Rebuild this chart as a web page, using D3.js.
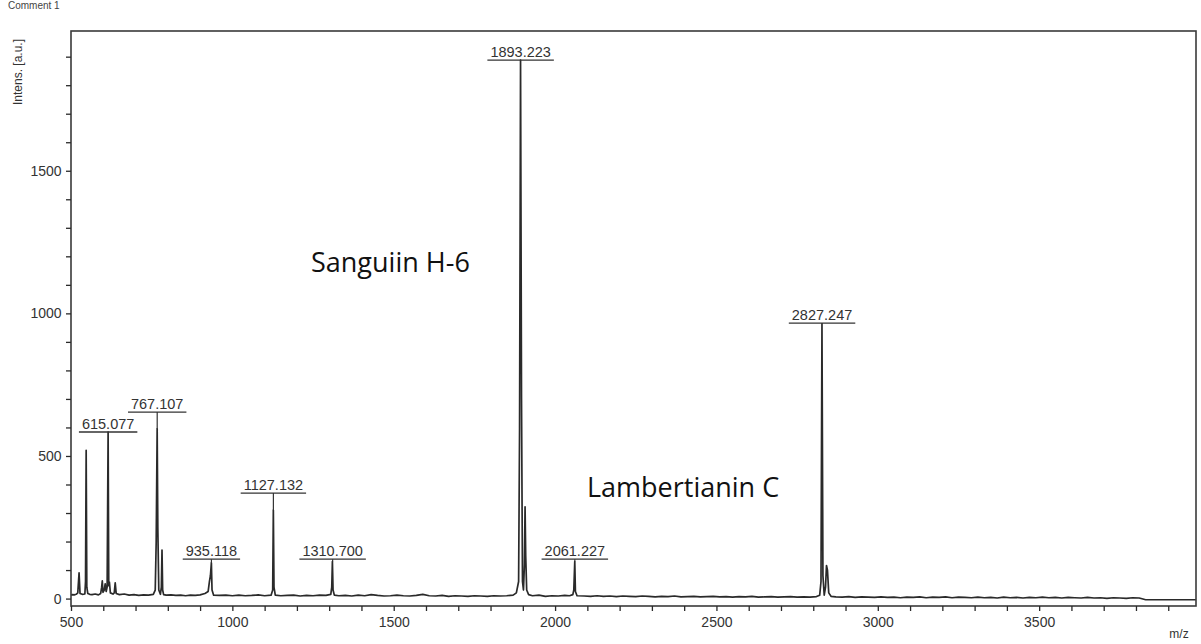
<!DOCTYPE html>
<html><head><meta charset="utf-8">
<script src="https://cdn.jsdelivr.net/npm/d3@7"></script>
<style>body{margin:0;background:#fff}svg{display:block}</style>
</head><body>
<svg id="c" width="1201" height="644"></svg>
<script>
// ---- data ----
const xTicks = [500,1000,1500,2000,2500,3000,3500];
const yTicks = [0,500,1000,1500];
const annotations = ["Sanguiin H-6", "Lambertianin C"];
const peakMz =    [615.077, 767.107, 935.118, 1127.132, 1310.700, 1893.223, 2061.227, 2827.247];
const peakLabels = ["615.077","767.107","935.118","1127.132","1310.700","1893.223","2061.227","2827.247"];
const labelLevel = [584, 654, 138, 370, 138, 1888, 138, 966];
const peakTop =    [584, 595, 125, 310, 130, 1888, 130, 963];
const spectrum = [
[501,12],[505,14],[510,13],[516,15],[521,20],[525,90],[528,18],[535,15],[543,16],[545,60],[547,520],[549,40],[552,18],[558,15],[565,14],[575,16],[585,13],[592,18],[595,40],[597,62],[599,22],[603,30],[606,52],[609,25],[612,40],[615,584],[617,45],[619,58],[622,20],[630,16],[634,20],[637,55],[640,18],[650,14],[665,16],[680,12],[695,14],[710,11],[725,13],[740,12],[755,15],[761,30],[764,200],[767,595],[769,250],[772,30],[777,15],[780,40],[782,170],[784,30],[787,14],[795,12],[810,13],[825,11],[840,12],[855,10],[870,12],[885,11],[900,13],[915,18],[925,25],[929,60],[932,80],[935,125],[937,30],[942,12],[960,11],[980,12],[1000,10],[1020,12],[1040,10],[1060,11],[1080,13],[1100,10],[1120,12],[1125,30],[1127,310],[1129,40],[1133,12],[1150,10],[1170,11],[1190,12],[1210,9],[1230,11],[1250,10],[1270,12],[1290,11],[1305,15],[1308,40],[1310,130],[1312,30],[1316,12],[1330,10],[1350,11],[1370,9],[1390,12],[1410,10],[1430,14],[1450,11],[1470,9],[1490,10],[1510,12],[1530,10],[1550,9],[1570,11],[1590,15],[1610,10],[1630,9],[1650,11],[1670,8],[1690,10],[1710,9],[1730,8],[1750,10],[1770,9],[1790,8],[1810,10],[1830,9],[1850,10],[1870,12],[1880,20],[1887,60],[1890,600],[1893,1888],[1896,700],[1899,60],[1902,30],[1905,120],[1907,322],[1909,150],[1912,30],[1918,14],[1930,10],[1950,12],[1970,8],[1990,10],[2010,9],[2030,11],[2045,10],[2055,14],[2058,30],[2061,130],[2063,25],[2068,10],[2090,9],[2110,8],[2130,10],[2150,8],[2170,9],[2190,7],[2210,9],[2230,8],[2250,7],[2270,9],[2290,8],[2310,6],[2330,8],[2350,7],[2370,9],[2390,6],[2410,7],[2430,8],[2450,6],[2470,7],[2490,8],[2510,6],[2530,7],[2550,5],[2570,7],[2590,6],[2610,8],[2630,5],[2650,6],[2670,7],[2690,5],[2710,6],[2730,7],[2750,5],[2770,6],[2790,5],[2810,7],[2820,12],[2824,60],[2827,963],[2830,80],[2834,12],[2838,40],[2841,116],[2844,100],[2848,20],[2855,8],[2870,6],[2890,5],[2910,7],[2930,4],[2950,6],[2970,5],[2990,4],[3010,6],[3030,4],[3050,5],[3070,3],[3090,5],[3110,4],[3130,6],[3150,3],[3170,5],[3190,4],[3210,6],[3230,3],[3250,5],[3270,4],[3290,3],[3310,5],[3330,3],[3350,4],[3370,2],[3390,5],[3410,3],[3430,4],[3450,2],[3470,4],[3490,3],[3510,5],[3530,3],[3550,4],[3570,2],[3590,4],[3610,3],[3630,2],[3650,4],[3670,2],[3690,3],[3710,1],[3730,3],[3750,2],[3770,1],[3790,3],[3810,2],[3830,-4],[3900,-4],[3985,-4]
];

// ---- layout ----
const svg = d3.select("#c");
const L = 71, T = 31, R = 1196, B = 606;
const x = d3.scaleLinear().domain([500, 3986]).range([L, R]);
const y = d3.scaleLinear().domain([-26, 1990]).range([B, T]);
const axisFont = "'Liberation Sans', Arial, sans-serif";
const ink = "#2a2a2a";

// top-left comment text
svg.append("text").attr("x", 8).attr("y", 9).attr("font-family", axisFont)
  .attr("font-size", 10).attr("fill", "#444").text("Comment 1");

// plot frame
svg.append("rect").attr("x", L).attr("y", T).attr("width", R - L).attr("height", B - T)
  .attr("fill", "none").attr("stroke", "#3a3a3a").attr("stroke-width", 1.6);

// x axis
const xAxis = d3.axisBottom(x).tickValues(d3.range(500, 3901, 100))
  .tickSize(5).tickFormat(d => xTicks.includes(d) ? d : "");
const gx = svg.append("g").attr("transform", `translate(0,${B})`).call(xAxis);
gx.select(".domain").remove();
gx.selectAll("line").attr("stroke", ink).attr("stroke-width", 1.3);
gx.selectAll("text").attr("font-family", axisFont).attr("font-size", 14)
  .attr("fill", "#333").attr("dy", "0.95em");

// y axis
const yAxis = d3.axisLeft(y).tickValues(d3.range(0, 1901, 100))
  .tickSize(5).tickFormat(d => yTicks.includes(d) ? d : "");
const gy = svg.append("g").attr("transform", `translate(${L},0)`).call(yAxis);
gy.select(".domain").remove();
gy.selectAll("line").attr("stroke", ink).attr("stroke-width", 1.3);
gy.selectAll("text").attr("font-family", axisFont).attr("font-size", 14)
  .attr("fill", "#333").attr("dx", "-0.1em");

// axis titles
svg.append("text").attr("transform", `translate(22,72) rotate(-90)`)
  .attr("text-anchor", "middle").attr("font-family", axisFont).attr("font-size", 12)
  .attr("fill", "#333").text("Intens. [a.u.]");
svg.append("text").attr("x", 1179).attr("y", 638).attr("text-anchor", "middle")
  .attr("font-family", axisFont).attr("font-size", 12).attr("fill", "#333").text("m/z");

// spectrum
const line = d3.line().x(d => x(d[0])).y(d => y(d[1]));
svg.append("path").datum(spectrum).attr("d", line).attr("fill", "none")
  .attr("stroke", ink).attr("stroke-width", 1.7).attr("stroke-linejoin", "round");

// peak labels
const lab = svg.append("g");
peakMz.forEach((mz, i) => {
  const cx = x(mz), ly = y(labelLevel[i]);
  const t = lab.append("text").attr("x", cx).attr("y", ly - 3).attr("text-anchor", "middle")
    .attr("font-family", axisFont).attr("font-size", 14.5).attr("fill", "#333").text(peakLabels[i]);
  const w = t.node().getComputedTextLength();
  lab.append("line").attr("x1", cx - w / 2 - 3).attr("x2", cx + w / 2 + 3)
    .attr("y1", ly).attr("y2", ly).attr("stroke", "#333").attr("stroke-width", 1.3);
  lab.append("line").attr("x1", cx).attr("x2", cx).attr("y1", ly).attr("y2", y(peakTop[i]))
    .attr("stroke", "#333").attr("stroke-width", 1.2);
});

// compound annotations
const annFont = "'Open Sans', 'Noto Sans', sans-serif";
svg.append("text").attr("x", 311).attr("y", 272).attr("font-family", annFont)
  .attr("font-size", 27).attr("fill", "#111").text(annotations[0]);
svg.append("text").attr("x", 587).attr("y", 497).attr("font-family", annFont)
  .attr("font-size", 27).attr("fill", "#111").text(annotations[1]);
</script>
</body></html>
